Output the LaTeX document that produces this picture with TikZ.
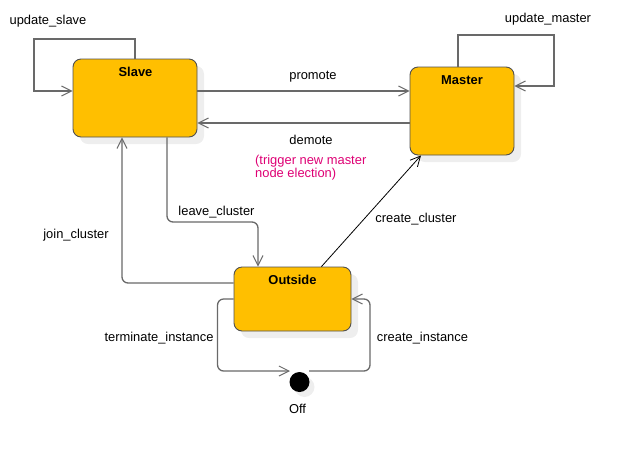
\documentclass[tikz,border=0pt]{standalone}
\usepackage{fontspec}
\setmainfont{Liberation Sans}
\usetikzlibrary{arrows.meta,shadows}
\definecolor{stfill}{RGB}{255,191,0}
\definecolor{stborder}{RGB}{80,80,80}
\definecolor{conngray}{RGB}{105,105,105}
\definecolor{notecol}{RGB}{222,0,116}
\definecolor{shadowgray}{RGB}{238,238,238}
\tikzset{
  state/.style={draw=stborder, line width=0.9pt, fill=stfill, rounded corners=8pt,
    inner sep=0pt, drop shadow={shadow xshift=7pt, shadow yshift=-7pt, fill=shadowgray, opacity=1}},
  sttitle/.style={font=\fontsize{12.9}{15}\selectfont\bfseries},
  conn/.style={draw=conngray, line width=1.3pt, rounded corners=6pt, -{Straight Barb[length=10pt,width=10pt,line width=1pt]}},
  thinconn/.style={draw=black, line width=0.8pt, -{Straight Barb[length=10pt,width=10pt,line width=0.8pt]}},
  lbl/.style={font=\fontsize{12.9}{15}\selectfont, inner sep=1pt},
}
\begin{document}
\begin{tikzpicture}[x=1pt,y=-1pt]
\useasboundingbox (0,0) rectangle (630,459);
% states
\node[state, minimum width=124pt, minimum height=78pt] (slave) at (135,98) {};
\node[state, minimum width=104pt, minimum height=88pt] (master) at (462,111) {};
\node[state, minimum width=117pt, minimum height=64pt] (outside) at (292.5,299) {};
\node[circle, fill=black, minimum size=20pt, inner sep=0pt,
  drop shadow={shadow xshift=5pt, shadow yshift=-5pt, fill=shadowgray, opacity=1}] (off) at (299.5,382) {};
\node[sttitle] (slaveT) at (135.5,72) {Slave};
\node[sttitle] (masterT) at (462,80.5) {Master};
\node[sttitle] (outsideT) at (292.5,280) {Outside};
\node[lbl] (offT) at (297.5,408.5) {Off};
\coordinate (us1) at (34,39);
\coordinate (um1) at (554,35);
\coordinate (lc1) at (258,222);
\coordinate (offL) at (290,371);
\coordinate (offR) at (309,371);
% connectors
\draw[conn, rounded corners=0pt] (slave.north) |- (us1) |- ([yshift=7pt]slave.west);
\draw[conn, rounded corners=0pt] ([xshift=-4pt]master.north) |- (um1) |- ([yshift=25pt]master.east);
\draw[conn] ([yshift=7pt]slave.east) -- ([yshift=20pt]master.west);
\draw[conn] ([yshift=-12pt]master.west) -- ([yshift=-25pt]slave.east);
\draw[conn] ([xshift=32pt]slave.south) |- (lc1) -- ([xshift=-34.5pt]outside.north);
\draw[conn] ([yshift=16pt]outside.west) -| ([xshift=-13pt]slave.south);
\draw[thinconn] ([xshift=29pt]outside.north) -- ([xshift=-41pt]master.south);
\draw[conn] (outside.west) -- ++(-16,0) |- (offL);
\draw[conn] (offR) -- ++(61,0) |- (outside.east);
% labels
\node[lbl] (l1) at (48,21) {update\_slave};
\node[lbl] (l2) at (548,19) {update\_master};
\node[lbl] (l3) at (313,76.5) {promote};
\node[lbl] (l4) at (311,139.5) {demote};
\node[lbl, text=notecol, anchor=west, align=left, font=\fontsize{12.9}{12.7}\selectfont] (l5) at (254,167.5) {(trigger new master\\node election)};
\node[lbl] (l6) at (216.5,212.5) {leave\_cluster};
\node[lbl] (l7) at (76,235.5) {join\_cluster};
\node[lbl] (l8) at (416,219.5) {create\_cluster};
\node[lbl] (l9) at (159,338.5) {terminate\_instance};
\node[lbl] (l10) at (422.5,338.5) {create\_instance};
\end{tikzpicture}
\end{document}
